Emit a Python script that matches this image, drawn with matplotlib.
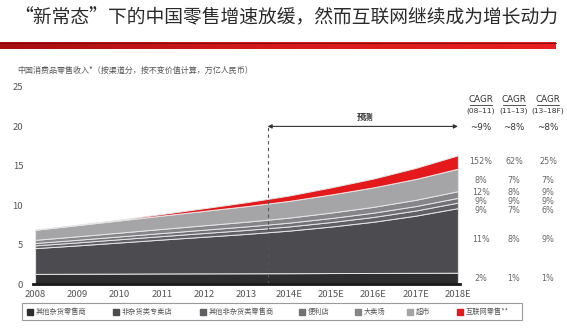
import matplotlib
matplotlib.use("Agg")
import matplotlib.pyplot as plt
import numpy as np
from matplotlib.patches import Rectangle
from matplotlib.lines import Line2D
from matplotlib.colors import LinearSegmentedColormap

plt.rcParams['font.family'] = ['Noto Sans CJK SC', 'DejaVu Sans']

# ---- data (万亿人民币) ----
years = ["2008", "2009", "2010", "2011", "2012", "2013",
         "2014E", "2015E", "2016E", "2017E", "2018E"]
channels = ["其他杂货零售商", "非杂货类专卖店", "其他非杂货类零售商",
            "便利店", "大卖场", "超市", "互联网零售**"]

other_grocery   = [1.28, 1.30, 1.32, 1.34, 1.35, 1.36, 1.37, 1.39, 1.40, 1.42, 1.43]
nongrocery_spec = [3.27, 3.60, 3.95, 4.30, 4.65, 5.00, 5.40, 5.90, 6.50, 7.25, 8.20]
other_nongrocery= [0.35, 0.38, 0.41, 0.44, 0.47, 0.50, 0.53, 0.57, 0.61, 0.65, 0.70]
convenience     = [0.30, 0.33, 0.36, 0.39, 0.42, 0.45, 0.48, 0.51, 0.54, 0.57, 0.60]
hypermarket     = [0.40, 0.44, 0.48, 0.52, 0.56, 0.60, 0.64, 0.69, 0.74, 0.79, 0.85]
supermarket     = [1.28, 1.42, 1.55, 1.69, 1.83, 1.97, 2.12, 2.30, 2.47, 2.65, 2.85]
online          = [0.02, 0.05, 0.10, 0.20, 0.34, 0.50, 0.68, 0.90, 1.12, 1.40, 1.70]

cagr_periods = ["(08–11)", "(11–13)", "(13–18F)"]
cagr_total   = ["~9%", "~8%", "~8%"]
# per channel, bottom to top
cagr_08_11 = ["2%", "11%", "9%", "9%", "12%", "8%", "152%"]
cagr_11_13 = ["1%", "8%", "7%", "9%", "8%", "7%", "62%"]
cagr_13_18 = ["1%", "9%", "6%", "9%", "9%", "7%", "25%"]

colors = ["#2e2e31", "#4b4b50", "#5f5f64", "#717176", "#86868a", "#a5a5a8", "#e4191b"]

W, H = 567, 329
fig = plt.figure(figsize=(W / 100, H / 100), dpi=100)


def fx(px):
    return px / W


def fy(py):
    return 1 - py / H


# title
fig.text(fx(14), fy(18), "“新常态”下的中国零售增速放缓，然而互联网继续成为增长动力",
         fontsize=13.5, color="#2a2a2a", va="center", ha="left")

# red gradient band under the title
band = fig.add_axes([0, fy(49), fx(556), (49 - 42) / H])
grad = np.linspace(0, 1, 256).reshape(1, -1)
cmap = LinearSegmentedColormap.from_list("band", ["#a80d10", "#d51a1d", "#e8201f"])
band.imshow(grad, aspect="auto", cmap=cmap, extent=[0, 1, 0, 1])
band.set_axis_off()
fig.add_artist(Line2D([0, fx(556)], [fy(42.5), fy(42.5)], color="#7a0a0a", lw=0.6))

# subtitle
fig.text(fx(17), fy(70), "中国消费品零售收入*（按渠道分，按不变价值计算，万亿人民币）",
         fontsize=5.8, color="#555555", va="center", ha="left")

# main axes
ax = fig.add_axes([fx(33), fy(284), fx(460) - fx(33), (284 - 87) / H])
x = np.arange(len(years))
series = [other_grocery, nongrocery_spec, other_nongrocery, convenience,
          hypermarket, supermarket, online]
ax.stackplot(x, *series, colors=colors, edgecolor="#e6e6e8", linewidth=0.7)

ax.set_xlim(-0.05, 10.05)
ax.set_ylim(0, 25)
ax.set_yticks([0, 5, 10, 15, 20, 25])
ax.set_xticks(x)
ax.set_xticklabels(years)
ax.tick_params(length=0, labelsize=6.8, colors="#555555")
ax.tick_params(axis="y", pad=7)
ax.tick_params(axis="x", pad=4)
for s in ["top", "right", "left"]:
    ax.spines[s].set_visible(False)
ax.spines["bottom"].set_color("#1a1a1a")
ax.spines["bottom"].set_linewidth(2.0)
ax.patch.set_alpha(0)

# forecast marker
ax.plot([5.5, 5.5], [0, 20], color="#555555", lw=0.8, ls=(0, (3, 3)))
ax.annotate("", xy=(5.5, 20), xytext=(10.0, 20),
            arrowprops=dict(arrowstyle="<|-|>", color="#333333", lw=0.8,
                            mutation_scale=6, shrinkA=0, shrinkB=0))
ax.text(7.8, 21.1, "预测", fontsize=6, color="#333333", ha="center", va="center",
        fontweight="bold")

# CAGR columns
col_px = [481, 514, 548]
row_y = [0.76, 5.7, 9.35, 10.45, 11.55, 13.1, 15.5]
for cx, period, tot, vals in zip(col_px, cagr_periods, cagr_total,
                                 [cagr_08_11, cagr_11_13, cagr_13_18]):
    fig.text(fx(cx), fy(100), "CAGR", fontsize=6.3, color="#333333",
             ha="center", va="center", family="DejaVu Sans")
    fig.add_artist(Line2D([fx(cx - 11), fx(cx + 11)], [fy(105), fy(105)],
                          color="#333333", lw=0.6))
    fig.text(fx(cx), fy(111), period, fontsize=5.4, color="#333333",
             ha="center", va="center", family="DejaVu Sans")
    fig.text(fx(cx), fy(127), tot, fontsize=6.3, color="#333333",
             ha="center", va="center", family="DejaVu Sans")
    for ry, v in zip(row_y, vals):
        fig.text(fx(cx), fy(284 - ry * 7.88), v, fontsize=5.8, color="#666666",
                 ha="center", va="center", family="DejaVu Sans")

# legend strip
fig.add_artist(Rectangle((fx(22), fy(320)), fx(522) - fx(22), (320 - 303) / H,
                         fill=False, edgecolor="#9a9a9a", lw=0.8))
leg_px = [27, 113, 200, 299, 355, 407, 457]
for lx, name, c in zip(leg_px, channels, colors):
    fig.add_artist(Rectangle((fx(lx), fy(315)), 6 / W, 6 / H, color=c))
    fig.text(fx(lx + 9), fy(312), name, fontsize=5.2, color="#555555",
             ha="left", va="center")

fig.savefig("out.png", dpi=100)
